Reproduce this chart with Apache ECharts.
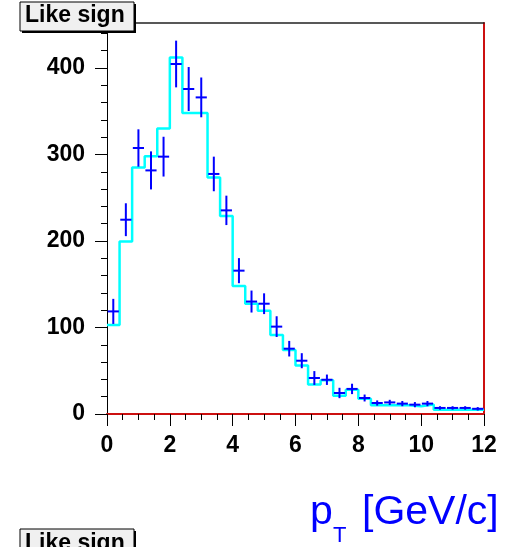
<!DOCTYPE html>
<html>
<head>
<meta charset="utf-8">
<script src="https://cdn.jsdelivr.net/npm/echarts@6/dist/echarts.min.js"></script>
<style>
  html, body { margin: 0; padding: 0; background: #fff; }
  #chart { width: 508px; height: 547px; }
</style>
</head>
<body>
<div id="chart"></div>
<script>
// ---- data ----
const binCenters = [0.2, 0.6, 1.0, 1.4, 1.8, 2.2, 2.6, 3.0, 3.4, 3.8,
                    4.2, 4.6, 5.0, 5.4, 5.8, 6.2, 6.6, 7.0, 7.4, 7.8,
                    8.2, 8.6, 9.0, 9.4, 9.8, 10.2, 10.6, 11.0, 11.4, 11.8];
const binWidth = 0.4;
// histogram (cyan step line)
const histValues = [103, 199.5, 285, 298, 330, 412, 348, 348, 273.5, 229,
                    148, 127.5, 119.5, 91.3, 74, 56, 34, 39, 21, 28,
                    17.7, 10, 10, 10, 9, 11, 5, 5, 5, 5];
// data points (blue crosses) and their errors
const dataValues = [118.6, 224.6, 307.5, 281.6, 297.5, 404.6, 375.7, 366, 277.5, 235.4,
                    165.7, 130, 127.5, 101, 75.5, 61.6, 41.6, 39.6, 24.3, 29,
                    18.5, 12.7, 13.4, 12, 10.8, 12, 7, 7, 7, 6];
const dataErrors = [14.5, 19, 21.6, 22, 23, 27, 25.4, 23, 20, 17,
                    14.5, 12.7, 12, 12, 9, 8.7, 8, 6, 6, 6,
                    4, 3, 3, 3, 3, 3, 2, 2, 2, 2];
const xTickLabels = ['0', '2', '4', '6', '8', '10', '12'];
const yTickLabels = ['0', '100', '200', '300', '400'];
const xMin = 0, xMax = 12, xInterval = 2;
const yMin = 0, yMax = 452, yInterval = 100, yMinorInterval = 20;
const titleText = 'Like sign';

// ---- build ----
const stepData = binCenters.map((c, i) => [c - binWidth / 2, histValues[i]]);
stepData.push([binCenters[binCenters.length - 1] + binWidth / 2, histValues[histValues.length - 1]]);
const crossData = binCenters.map((c, i) => [c, dataValues[i], dataErrors[i]]);

const FONT = 'Liberation Sans, Arial, Helvetica, sans-serif';
const GRID = { left: 107, right: 24, top: 23, bottom: 133 };

const chart = echarts.init(document.getElementById('chart'), null, { renderer: 'canvas' });

const option = {
  animation: false,
  backgroundColor: '#ffffff',
  grid: [
    Object.assign({ containLabel: false }, GRID),
    Object.assign({ containLabel: false }, GRID)
  ],
  xAxis: [
    {
      gridIndex: 0, type: 'value', position: 'bottom', min: xMin, max: xMax, interval: xInterval,
      axisLine: { show: true, onZero: false, lineStyle: { color: '#cc1010', width: 2 } },
      axisTick: { show: true, inside: false, length: 12, lineStyle: { color: '#000', width: 1 } },
      minorTick: { show: true, splitNumber: 4, length: 6, lineStyle: { color: '#000', width: 1 } },
      axisLabel: {
        show: true, margin: 20, color: '#000', fontFamily: FONT, fontWeight: 'bold', fontSize: 23,
        formatter: (v) => { const i = Math.round((v - xMin) / xInterval); return xTickLabels[i] !== undefined ? xTickLabels[i] : ''; }
      },
      splitLine: { show: false }
    },
    {
      gridIndex: 0, type: 'value', position: 'top', min: xMin, max: xMax, interval: xInterval,
      axisLine: { show: true, onZero: false, lineStyle: { color: '#222', width: 1.5 } },
      axisTick: { show: false }, axisLabel: { show: false }, splitLine: { show: false }
    },
    {
      gridIndex: 1, type: 'value', position: 'bottom', min: xMin, max: xMax, show: false
    }
  ],
  yAxis: [
    {
      gridIndex: 0, type: 'value', position: 'left', min: yMin, max: yMax, interval: yInterval,
      axisLine: { show: true, onZero: false, lineStyle: { color: '#000', width: 1 } },
      axisTick: { show: true, inside: false, length: 12, lineStyle: { color: '#000', width: 1 } },
      axisLabel: {
        show: true, margin: 22, color: '#000', fontFamily: FONT, fontWeight: 'bold', fontSize: 23,
        showMaxLabel: false,
        formatter: (v) => { const i = Math.round((v - yMin) / yInterval); return (Math.abs(v - (yMin + i * yInterval)) < 1e-6 && yTickLabels[i] !== undefined) ? yTickLabels[i] : ''; }
      },
      splitLine: { show: false }
    },
    {
      gridIndex: 0, type: 'value', position: 'right', min: yMin, max: yMax, interval: yInterval,
      axisLine: { show: true, onZero: false, lineStyle: { color: '#cc1010', width: 2 } },
      axisTick: { show: false }, axisLabel: { show: false }, splitLine: { show: false }
    },
    {
      gridIndex: 1, type: 'value', position: 'left', min: yMin, max: yMax, interval: yMinorInterval,
      axisLine: { show: false },
      axisTick: { show: true, inside: false, length: 6, lineStyle: { color: '#000', width: 1 } },
      axisLabel: { show: false }, splitLine: { show: false }
    }
  ],
  series: [
    {
      type: 'line', xAxisIndex: 0, yAxisIndex: 0, step: 'end', data: stepData,
      symbol: 'none', lineStyle: { color: '#00ffff', width: 2.5 }, z: 2, silent: true
    },
    {
      type: 'custom', xAxisIndex: 0, yAxisIndex: 0, data: crossData, z: 3, silent: true,
      encode: { x: 0, y: 1 },
      renderItem: function (params, api) {
        const x = api.value(0), y = api.value(1), e = api.value(2);
        const top = api.coord([x, y + e]);
        const bot = api.coord([x, y - e]);
        const l = api.coord([x - binWidth / 2, y]);
        const r = api.coord([x + binWidth / 2, y]);
        const st = { stroke: '#0000ff', lineWidth: 2 };
        return {
          type: 'group',
          children: [
            { type: 'line', shape: { x1: top[0], y1: top[1], x2: bot[0], y2: bot[1] }, style: st },
            { type: 'line', shape: { x1: l[0] + 0.7, y1: l[1], x2: r[0] - 0.7, y2: r[1] }, style: st }
          ]
        };
      }
    }
  ],
  graphic: [
    // top title box (with shadow)
    { type: 'rect', shape: { x: 22, y: 4, width: 114, height: 29 }, style: { fill: '#000' }, z: 100 },
    { type: 'rect', shape: { x: 20, y: 2, width: 114, height: 29 }, style: { fill: '#f0f0f0', stroke: '#000', lineWidth: 1 }, z: 101 },
    { type: 'text', x: 25, y: 16, style: { text: titleText, font: 'bold 23px ' + FONT, fill: '#000', verticalAlign: 'middle', align: 'left' }, z: 102 },
    // next pad's title box (partially visible at the bottom)
    { type: 'rect', shape: { x: 22, y: 531, width: 114, height: 29 }, style: { fill: '#000' }, z: 100 },
    { type: 'rect', shape: { x: 20, y: 529, width: 114, height: 29 }, style: { fill: '#f0f0f0', stroke: '#000', lineWidth: 1 }, z: 101 },
    { type: 'text', x: 25, y: 544, style: { text: titleText, font: 'bold 23px ' + FONT, fill: '#000', verticalAlign: 'middle', align: 'left' }, z: 102 },
    // x axis title: p_T [GeV/c]
    { type: 'text', x: 310, y: 513, style: { text: 'p', font: '41px ' + FONT, fill: '#0000ff', verticalAlign: 'middle', align: 'left' }, z: 102 },
    { type: 'text', x: 333, y: 536, style: { text: 'T', font: '22px ' + FONT, fill: '#0000ff', verticalAlign: 'middle', align: 'left' }, z: 102 },
    { type: 'text', x: 362, y: 513, style: { text: '[GeV/c]', font: '41px ' + FONT, fill: '#0000ff', verticalAlign: 'middle', align: 'left' }, z: 102 }
  ]
};

chart.setOption(option);
</script>
</body>
</html>
